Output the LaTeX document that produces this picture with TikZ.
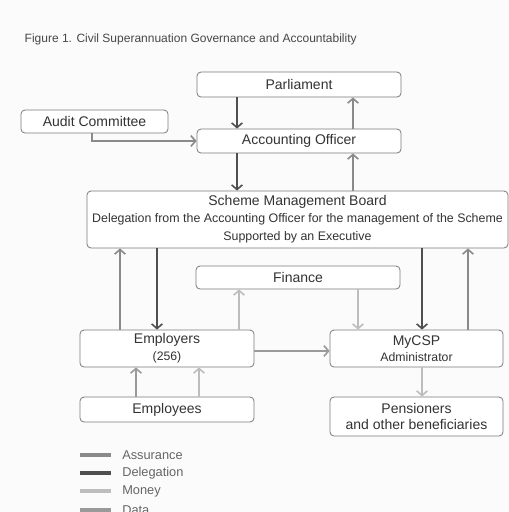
\documentclass[tikz,border=0pt]{standalone}
\usepackage{fontspec}
\setmainfont{Liberation Sans}
\usetikzlibrary{arrows.meta}
\definecolor{cdeleg}{HTML}{4F4F4F}
\definecolor{cassur}{HTML}{8A8A8A}
\definecolor{cmoney}{HTML}{BDBDBD}
\definecolor{cdata}{HTML}{9A9A9A}
\definecolor{cbox}{HTML}{7A7A7A}
\definecolor{ctext}{HTML}{333333}

\begin{document}
\begin{tikzpicture}[x=0.75pt,y=-0.75pt,
  box/.style={draw=cbox,line width=0.6pt,rounded corners=3pt,fill=white,
    text=ctext,align=center,inner sep=0pt,font=\fontsize{10.5}{12.5}\selectfont},
  flow/.style={line width=1.5pt,-{Straight Barb[length=3.5pt,width=8pt,line width=1.2pt]}},
  delegation/.style={flow,draw=cdeleg},
  assurance/.style={flow,draw=cassur},
  money/.style={flow,draw=cmoney},
  dataflow/.style={flow,draw=cdata},
  key/.style={line width=2.6pt},
  keytext/.style={anchor=west,inner sep=0pt,text=ctext!75,font=\fontsize{9.6}{11}\selectfont}]
\useasboundingbox[fill=gray!3] (0,0) rectangle (509,512);

\node[anchor=base west,text=ctext!90,font=\fontsize{9}{11}\selectfont] (title) at (20,42)
  {Figure 1. Civil Superannuation Governance and Accountability};

% boxes
\node[box,minimum width=204*0.75pt,minimum height=25*0.75pt] (parl) at (299,84.5) {Parliament};
\node[box,minimum width=147*0.75pt,minimum height=23*0.75pt] (audit) at (94.5,121.5) {Audit Committee};
\node[box,minimum width=204*0.75pt,minimum height=24*0.75pt] (ao) at (299,141) {Accounting Officer};
\node[box,minimum width=421*0.75pt,minimum height=57*0.75pt] (smb) at (297.5,219.5)
  {Scheme Management Board\\[0pt]
   {\fontsize{9.3}{11}\selectfont Delegation from the Accounting Officer for the management of the Scheme}\\[1pt]
   {\fontsize{9.3}{11}\selectfont Supported by an Executive}};
\node[box,minimum width=204*0.75pt,minimum height=23*0.75pt] (fin) at (298,277.5) {Finance};
\node[box,minimum width=174*0.75pt,minimum height=37*0.75pt] (emp) at (167,348.5)
  {Employers\\{\fontsize{9.2}{10}\selectfont (256)}};
\node[box,minimum width=173*0.75pt,minimum height=37*0.75pt] (mycsp) at (416.5,348.5)
  {MyCSP\\{\fontsize{9.2}{10}\selectfont Administrator}};
\node[box,minimum width=174*0.75pt,minimum height=25*0.75pt] (staff) at (167,409.5) {Employees};
\node[box,minimum width=173*0.75pt,minimum height=39*0.75pt] (pens) at (416.5,416.5)
  {Pensioners\\and other beneficiaries};

% connectors
\draw[delegation] (237,0 |- parl.south) -- (237,0 |- ao.north);
\draw[assurance] (353,0 |- ao.north) -- (353,0 |- parl.south);
\draw[assurance] (92,0 |- audit.south) |- (ao.west);
\draw[delegation] (237,0 |- ao.south) -- (237,0 |- smb.north);
\draw[assurance] (353,0 |- smb.north) -- (353,0 |- ao.south);

\draw[assurance] (120,0 |- emp.north) -- (120,0 |- smb.south);
\draw[delegation] (157,0 |- smb.south) -- (157,0 |- emp.north);
\draw[delegation] (422,0 |- smb.south) -- (422,0 |- mycsp.north);
\draw[assurance] (468,0 |- mycsp.north) -- (468,0 |- smb.south);

\draw[money] (239,0 |- emp.north) -- (239,0 |- fin.south);
\draw[money] (358,0 |- fin.south) -- (358,0 |- mycsp.north);
\draw[dataflow] (emp.east |- 0,351) -- (mycsp.west |- 0,351);
\draw[money] (422,0 |- mycsp.south) -- (422,0 |- pens.north);

\draw[dataflow] (136,0 |- staff.north) -- (136,0 |- emp.south);
\draw[money] (199,0 |- staff.north) -- (199,0 |- emp.south);

% key
\foreach \y/\c/\t in {455/cassur/Assurance,473/cdeleg/Delegation,491/cmoney/Money,510/cdata/Data}{
  \draw[key,\c] (80,\y) -- (111,\y);
  \node[keytext] at (122,\y) {\t};
}
\end{tikzpicture}
\end{document}
